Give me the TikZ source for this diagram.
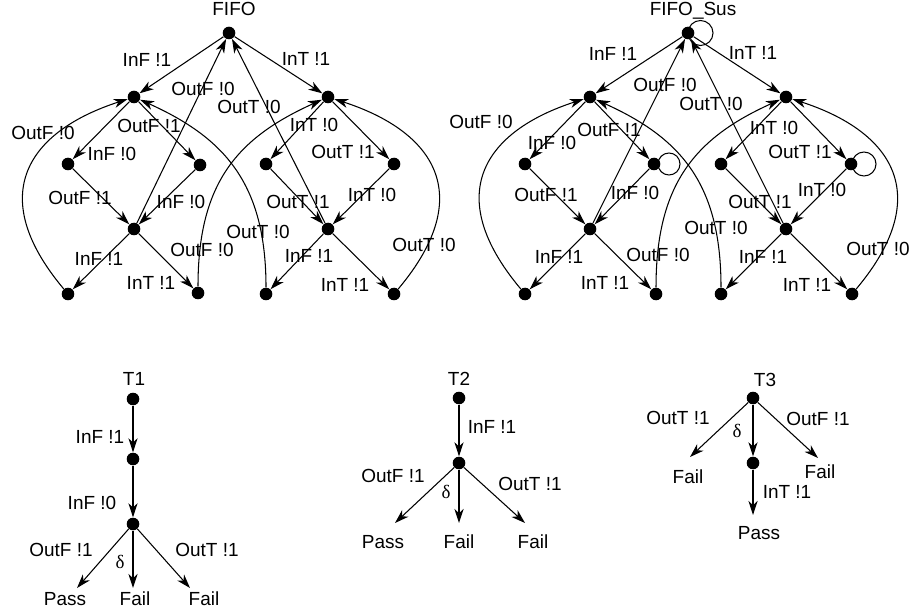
\documentclass[tikz,border=0pt]{standalone}
\usepackage{fontspec}
\setmainfont{Liberation Sans}
\newfontfamily\grkfont{Liberation Serif}
\usetikzlibrary{arrows.meta}

\begin{document}
\begin{tikzpicture}[x=0.02cm, y=-0.02cm,
  dot/.style={circle, fill=black, inner sep=0pt, minimum size=0.252cm},
  lbl/.style={inner sep=0pt, text height=7.8pt, text depth=0pt, font=\fontsize{10.8}{13}\selectfont},
  arr/.style={-{Stealth[length=8pt,width=5.2pt,inset=2.4pt]}, line width=0.6pt},
  plain/.style={line width=0.6pt}
]
\useasboundingbox (0,0) rectangle (911,614);

% ---------------- FIFO ----------------
\node[dot] (R)  at (229,33) {};
\node[dot] (A)  at (134,97) {};
\node[dot] (B)  at (328,97) {};
\node[dot] (a1) at (68,164) {};
\node[dot] (a2) at (200,165) {};
\node[dot] (b1) at (266,164) {};
\node[dot] (b2) at (394,164) {};
\node[dot] (cA) at (134,229) {};
\node[dot] (cB) at (328,229) {};
\node[dot] (aL) at (68,294) {};
\node[dot] (aR) at (198,293) {};
\node[dot] (bL) at (266,294) {};
\node[dot] (bR) at (394,294) {};

\draw[arr] (R) -- (A);
\draw[arr] (R) -- (B);
\draw[arr] (cA) -- (R);
\draw[arr] (cB) -- (R);
\draw[arr] (A) -- (a1);
\draw[arr] (A) -- (a2);
\draw[arr] (a1) -- (cA);
\draw[arr] (a2) -- (cA);
\draw[arr] (cA) -- (aL);
\draw[arr] (cA) -- (aR);
\draw[arr] (B) -- (b1);
\draw[arr] (B) -- (b2);
\draw[arr] (b1) -- (cB);
\draw[arr] (b2) -- (cB);
\draw[arr] (cB) -- (bL);
\draw[arr] (cB) -- (bR);
\draw[arr] (aL) .. controls +(-84,-100) and +(-105,34) .. (A);
\draw[arr] (bR) .. controls +(84,-100) and +(105,34) .. (B);
\draw[arr] (aR) .. controls +(0,-110) and +(-91,41) .. (B);
\draw[arr] (bL) .. controls +(0,-110) and +(91,41) .. (A);

\node[lbl] (tFifo) at (234,9) {FIFO};
\node[lbl] (f1)  at (147,60)  {InF !1};
\node[lbl] (f2)  at (306,59)  {InT !1};
\node[lbl] (f3)  at (203,89)  {OutF !0};
\node[lbl] (f4)  at (249,107) {OutT !0};
\node[lbl] (f5)  at (43,133)  {OutF !0};
\node[lbl] (f6)  at (149,126) {OutF !1};
\node[lbl] (f7)  at (112,154) {InF !0};
\node[lbl] (f8)  at (314,125) {InT !0};
\node[lbl] (f9)  at (343,152) {OutT !1};
\node[lbl] (f10) at (80,198)  {OutF !1};
\node[lbl] (f11) at (181,202) {InF !0};
\node[lbl] (f12) at (298,202) {OutT !1};
\node[lbl] (f13) at (372,195) {InT !0};
\node[lbl] (f14) at (99,259)  {InF !1};
\node[lbl] (f15) at (151,283) {InT !1};
\node[lbl] (f16) at (202,250) {OutF !0};
\node[lbl] (f17) at (258,232) {OutT !0};
\node[lbl] (f18) at (309,256) {InF !1};
\node[lbl] (f19) at (345,285) {InT !1};
\node[lbl] (f20) at (424,245) {OutT !0};

% ---------------- FIFO_Sus ----------------
\node[dot] (Rs)  at (688,33) {};
\node[dot] (As)  at (590,97) {};
\node[dot] (Bs)  at (786,97) {};
\node[dot] (a1s) at (525,164) {};
\node[dot] (a2s) at (654,164) {};
\node[dot] (b1s) at (721,164) {};
\node[dot] (b2s) at (851,164) {};
\node[dot] (cAs) at (590,229) {};
\node[dot] (cBs) at (786,229) {};
\node[dot] (aLs) at (525,294) {};
\node[dot] (aRs) at (656,294) {};
\node[dot] (bLs) at (721,294) {};
\node[dot] (bRs) at (852,294) {};

\draw[arr] (Rs) -- (As);
\draw[arr] (Rs) -- (Bs);
\draw[arr] (cAs) -- (Rs);
\draw[arr] (cBs) -- (Rs);
\draw[arr] (As) -- (a1s);
\draw[arr] (As) -- (a2s);
\draw[arr] (a1s) -- (cAs);
\draw[arr] (a2s) -- (cAs);
\draw[arr] (cAs) -- (aLs);
\draw[arr] (cAs) -- (aRs);
\draw[arr] (Bs) -- (b1s);
\draw[arr] (Bs) -- (b2s);
\draw[arr] (b1s) -- (cBs);
\draw[arr] (b2s) -- (cBs);
\draw[arr] (cBs) -- (bLs);
\draw[arr] (cBs) -- (bRs);
\draw[arr] (aLs) .. controls +(-84,-100) and +(-105,34) .. (As);
\draw[arr] (bRs) .. controls +(84,-100) and +(105,34) .. (Bs);
\draw[arr] (aRs) .. controls +(0,-110) and +(-91,41) .. (Bs);
\draw[arr] (bLs) .. controls +(0,-110) and +(91,41) .. (As);

% suspension self-loops
\draw[plain] (Rs.center)  ++(12.5,0) circle[radius=12.5];
\draw[plain] (a2s.center) ++(15,0)   circle[radius=11];
\draw[plain] (b2s.center) ++(13,0)   circle[radius=12];

\node[lbl] (tSus) at (693,9) {FIFO\_Sus};
\node[lbl] (s1)  at (613,54)  {InF !1};
\node[lbl] (s2)  at (753,53)  {InT !1};
\node[lbl] (s3)  at (665,85)  {OutF !0};
\node[lbl] (s4)  at (711,104) {OutT !0};
\node[lbl] (s5)  at (481,122) {OutF !0};
\node[lbl] (s6)  at (609,130) {OutF !1};
\node[lbl] (s7)  at (552,143) {InF !0};
\node[lbl] (s8)  at (774,128) {InT !0};
\node[lbl] (s9)  at (800,152) {OutT !1};
\node[lbl] (s10) at (546,195) {OutF !1};
\node[lbl] (s11) at (635,193) {InF !0};
\node[lbl] (s12) at (760,202) {OutT !1};
\node[lbl] (s13) at (822,190) {InT !0};
\node[lbl] (s14) at (559,257) {InF !1};
\node[lbl] (s15) at (605,283) {InT !1};
\node[lbl] (s16) at (658,255) {OutF !0};
\node[lbl] (s17) at (716,228) {OutT !0};
\node[lbl] (s18) at (763,257) {InF !1};
\node[lbl] (s19) at (807,285) {InT !1};
\node[lbl] (s20) at (878,249) {OutT !0};

% ---------------- T1 ----------------
\node[lbl] (tT1) at (134,379) {T1};
\node[dot] (p1) at (133,399) {};
\node[dot] (p2) at (133,459) {};
\node[dot] (p3) at (133,524) {};
\coordinate (p1l) at (77,588);
\coordinate (p1m) at (133,588);
\coordinate (p1r) at (190,588);
\draw[arr] (p1) -- (p2);
\draw[arr] (p2) -- (p3);
\draw[arr] (p3) -- (p1l);
\draw[arr] (p3) -- (p1m);
\draw[arr] (p3) -- (p1r);
\node[lbl] (u1) at (100,437) {InF !1};
\node[lbl] (u2) at (92,503)  {InF !0};
\node[lbl] (u3) at (61,550)  {OutF !1};
\node[lbl] (u4) at (120,562) {\grkfont δ};
\node[lbl] (u5) at (207,550) {OutT !1};
\node[lbl] (u6) at (65,599)  {Pass};
\node[lbl] (u7) at (135,599) {Fail};
\node[lbl] (u8) at (204,599) {Fail};

% ---------------- T2 ----------------
\node[lbl] (tT2) at (459,379) {T2};
\node[dot] (q1) at (459,398) {};
\node[dot] (q2) at (459,463) {};
\coordinate (q2l) at (395,523);
\coordinate (q2m) at (459,523);
\coordinate (q2r) at (525,523);
\draw[arr] (q1) -- (q2);
\draw[arr] (q2) -- (q2l);
\draw[arr] (q2) -- (q2m);
\draw[arr] (q2) -- (q2r);
\node[lbl] (v1) at (492,427) {InF !1};
\node[lbl] (v2) at (393,476) {OutF !1};
\node[lbl] (v3) at (446,492) {\grkfont δ};
\node[lbl] (v4) at (530,484) {OutT !1};
\node[lbl] (v5) at (383,542) {Pass};
\node[lbl] (v6) at (459,542) {Fail};
\node[lbl] (v7) at (533,542) {Fail};

% ---------------- T3 ----------------
\node[lbl] (tT3) at (765,380) {T3};
\node[dot] (r1) at (753,398) {};
\node[dot] (r2) at (753,463) {};
\coordinate (r1l) at (690,457);
\coordinate (r1r) at (818,458);
\coordinate (r2m) at (753,515);
\draw[arr] (r1) -- (r1l);
\draw[arr] (r1) -- (r1r);
\draw[arr] (r1) -- (r2);
\draw[arr] (r2) -- (r2m);
\node[lbl] (w1) at (678,418) {OutT !1};
\node[lbl] (w2) at (737,431) {\grkfont δ};
\node[lbl] (w3) at (818,419) {OutF !1};
\node[lbl] (w4) at (688,477) {Fail};
\node[lbl] (w5) at (820,472) {Fail};
\node[lbl] (w6) at (787,492) {InT !1};
\node[lbl] (w7) at (759,533) {Pass};
\end{tikzpicture}
\end{document}
